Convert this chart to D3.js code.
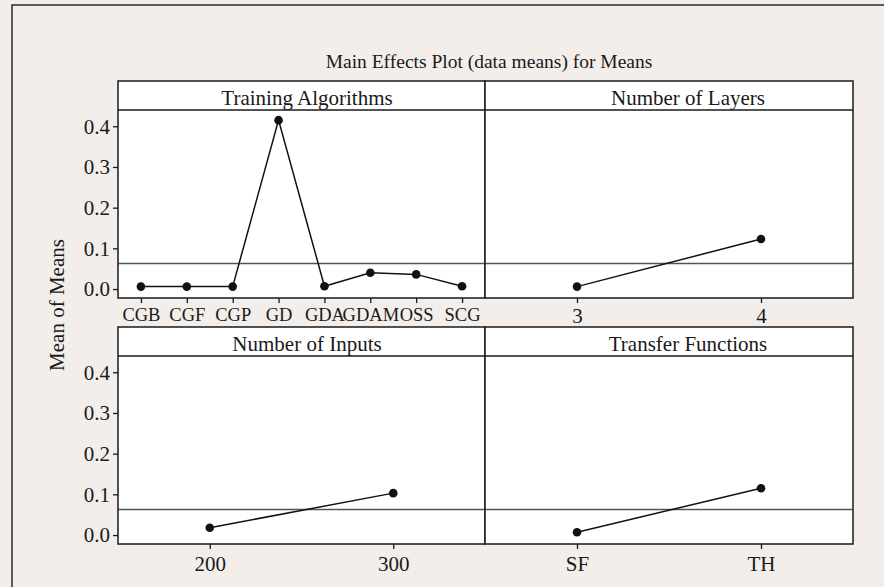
<!DOCTYPE html>
<html><head><meta charset="utf-8">
<script src="https://cdn.jsdelivr.net/npm/d3@7"></script>
<style>
body{margin:0;background:#f3eee9;overflow:hidden;}
text{font-family:"Liberation Serif","Times New Roman",serif;fill:#1a1a1a;}
</style>
</head><body><svg id="c" width="884" height="587"></svg>
<script>
// ---- data ----
const taCategories = ["CGB","CGF","CGP","GD","GDA","GDAM","OSS","SCG"];
const taMeans = [0.006,0.006,0.006,0.415,0.007,0.040,0.036,0.007];
const layerLevels = ["3","4"];
const layerMeans = [0.006,0.123];
const inputLevels = ["200","300"];
const inputMeans = [0.018,0.103];
const transferLevels = ["SF","TH"];
const transferMeans = [0.007,0.115];
const grandMean = 0.063;
const yTicks = [0.0,0.1,0.2,0.3,0.4];
const factorNames = ["Training Algorithms","Number of Layers","Number of Inputs","Transfer Functions"];
const chartTitle = "Main Effects Plot (data means) for Means";
const yLabel = "Mean of Means";

// ---- layout ----
const svg = d3.select("#c");
const cols = [[118,485],[485,853]];
const rows = [{top:81,strip:110,bottom:298},{top:327,strip:356,bottom:544}];
const stripCenters = [307,688];
const yDomain = [-0.022,0.44];

svg.append("rect").attr("x",12).attr("y",5).attr("width",900).attr("height",600)
  .attr("fill","#f3eee9").attr("stroke","#2a2a2a").attr("stroke-width",1.5);

svg.append("text").attr("x",489).attr("y",68).attr("text-anchor","middle")
  .style("font-size","19.5px").text(chartTitle);

svg.append("text").attr("transform","translate(64,305) rotate(-90)")
  .attr("text-anchor","middle").style("font-size","21px").text(yLabel);

const panels = [
  {name:factorNames[0],cats:taCategories,vals:taMeans,col:0,row:0,fs:18.5},
  {name:factorNames[1],cats:layerLevels,vals:layerMeans,col:1,row:0,fs:21},
  {name:factorNames[2],cats:inputLevels,vals:inputMeans,col:0,row:1,fs:21},
  {name:factorNames[3],cats:transferLevels,vals:transferMeans,col:1,row:1,fs:21}
];

panels.forEach(p=>{
  const [x0,x1] = cols[p.col];
  const r = rows[p.row];
  const g = svg.append("g");
  const x = d3.scalePoint().domain(p.cats).range([x0,x1]).padding(0.5);
  const y = d3.scaleLinear().domain(yDomain).range([r.bottom,r.strip]);

  g.append("rect").attr("x",x0).attr("y",r.top).attr("width",x1-x0).attr("height",r.bottom-r.top)
    .attr("fill","#ffffff");

  // reference line (grand mean)
  g.append("line").attr("x1",x0).attr("x2",x1).attr("y1",y(grandMean)).attr("y2",y(grandMean))
    .attr("stroke","#4d5856").attr("stroke-width",1.5);

  const data = p.cats.map((c,i)=>({c,v:p.vals[i]}));
  g.append("path").datum(data)
    .attr("d",d3.line().x(d=>x(d.c)).y(d=>y(d.v)))
    .attr("fill","none").attr("stroke","#111").attr("stroke-width",1.5);
  g.selectAll("circle").data(data).join("circle")
    .attr("cx",d=>x(d.c)).attr("cy",d=>y(d.v)).attr("r",4.3).attr("fill","#111");

  g.append("line").attr("x1",x0).attr("x2",x1).attr("y1",r.strip).attr("y2",r.strip)
    .attr("stroke","#1a1a1a").attr("stroke-width",1.5);
  g.append("text").attr("x",stripCenters[p.col]).attr("y",r.strip-5.5).attr("text-anchor","middle")
    .style("font-size","21px").text(p.name);

  g.append("rect").attr("x",x0).attr("y",r.top).attr("width",x1-x0).attr("height",r.bottom-r.top)
    .attr("fill","none").attr("stroke","#1a1a1a").attr("stroke-width",1.5);

  const xa = g.append("g").attr("transform",`translate(0,${r.bottom})`)
    .call(d3.axisBottom(x).tickSize(5).tickPadding(p.row===0?5:7));
  xa.select(".domain").remove();
  xa.selectAll("line").attr("stroke","#1a1a1a").attr("stroke-width",1.3);
  xa.selectAll("text").style("font-size",p.fs+"px").attr("fill","#1a1a1a")
    .style("font-family","'Liberation Serif','Times New Roman',serif");

  if(p.col===0){
    const ya = g.append("g").attr("transform",`translate(${x0},0)`)
      .call(d3.axisLeft(y).tickValues(yTicks).tickFormat(d3.format(".1f")).tickSize(5).tickPadding(3));
    ya.select(".domain").remove();
    ya.selectAll("line").attr("stroke","#1a1a1a").attr("stroke-width",1.3);
    ya.selectAll("text").style("font-size","21px").attr("fill","#1a1a1a")
      .style("font-family","'Liberation Serif','Times New Roman',serif");
  }
});
</script>
</body></html>
